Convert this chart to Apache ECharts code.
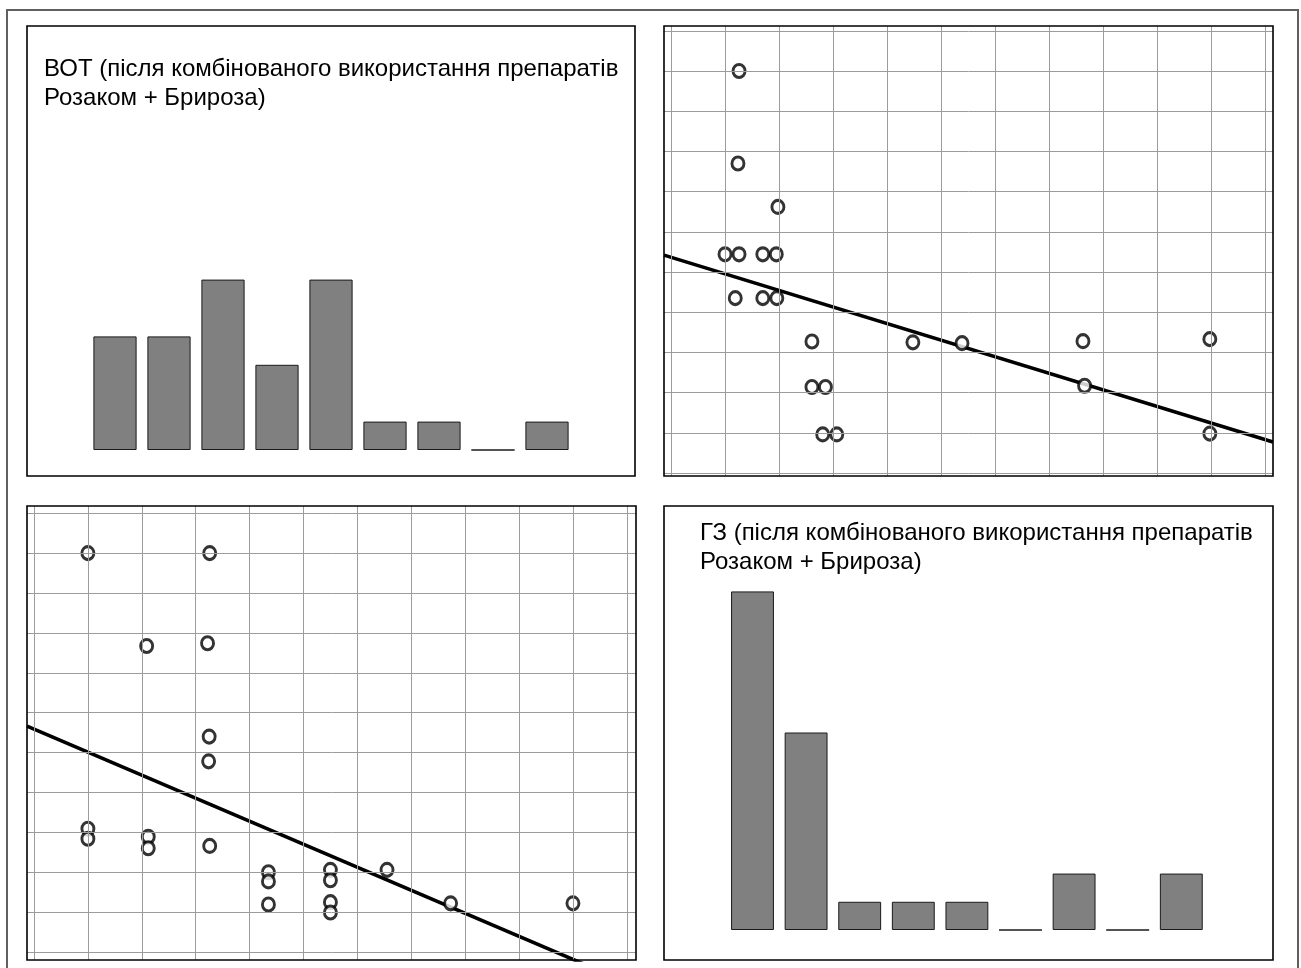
<!DOCTYPE html>
<html><head><meta charset="utf-8">
<script src="https://cdn.jsdelivr.net/npm/echarts@6/dist/echarts.min.js"></script>
<style>html,body{margin:0;padding:0;background:#fff}#c{width:1301px;height:968px}</style>
</head><body><div id="c"></div>
<script>
const titleBOT = 'ВОТ (після комбінованого використання препаратів\nРозаком + Брироза)';
const titleGZ = 'ГЗ (після комбінованого використання препаратів\nРозаком + Брироза)';
const barCategories = ['1','2','3','4','5','6','7','8','9'];
const botCounts = [4, 4, 6, 3, 6, 1, 1, 0, 1];
const gzCounts = [12, 7, 1, 1, 1, 0, 2, 0, 2];
const scatterTR = [
  [1.26,10.00],[1.24,7.70],[1.98,6.62],
  [1.00,5.44],[1.26,5.44],[1.70,5.44],[1.95,5.44],
  [1.19,4.35],[1.70,4.35],[1.96,4.35],
  [2.61,3.27],[4.48,3.25],[5.39,3.23],[7.63,3.28],[9.98,3.33],
  [2.61,2.14],[2.86,2.14],[7.66,2.17],
  [2.81,0.96],[3.07,0.96],[9.98,0.98]
];
const fitTR = [[-0.13,5.42],[11.15,0.77]];
const scatterBL = [
  [1.00,10.00],[3.26,10.00],[2.09,7.67],[3.22,7.74],
  [3.25,5.40],[3.24,4.78],
  [1.00,3.09],[1.00,2.84],[2.12,2.89],[2.12,2.60],[3.26,2.66],
  [4.35,2.00],[4.35,1.77],[4.35,1.19],
  [5.50,2.06],[5.50,1.80],[5.50,1.25],[5.50,0.99],
  [6.55,2.06],[7.73,1.22],[10.00,1.22]
];
const fitBL = [[-0.13,5.66],[10.6,-0.53]];
const gridTicks = [0,1,2,3,4,5,6,7,8,9,10,11];

const chart = echarts.init(document.getElementById('c'), null, {renderer:'canvas'});
const FONT = '"Liberation Sans", Arial, sans-serif';
const gridLineStyle = {color:'#9c9c9c', width:1, type:'solid'};

function gridMarks(){
  return gridTicks.map(v=>({xAxis:v})).concat(gridTicks.map(v=>({yAxis:v})));
}
function hiddenAxis(extra){
  return Object.assign({show:true, axisLine:{show:false}, axisTick:{show:false}, axisLabel:{show:false}, splitLine:{show:false}}, extra);
}
const scatterStyle = {color:'#fff', borderColor:'#000', borderWidth:3};
const titleStyle = {fontFamily:FONT, fontSize:24, fontWeight:'normal', color:'#000', lineHeight:29};

const option = {
  animation:false,
  backgroundColor:'#fff',
  title:[
    {text:titleBOT, left:44, top:55, padding:0, textStyle:titleStyle},
    {text:titleGZ, left:700, top:519, padding:0, textStyle:titleStyle}
  ],
  graphic:[
    {type:'rect', shape:{x:7, y:10, width:1291, height:970}, style:{fill:'none', stroke:'#606060', lineWidth:2}, z:100},
    {type:'rect', shape:{x:27, y:26, width:608, height:450}, style:{fill:'none', stroke:'#000', lineWidth:1.6}, z:100},
    {type:'rect', shape:{x:664, y:26, width:609, height:450}, style:{fill:'none', stroke:'#000', lineWidth:1.6}, z:100},
    {type:'rect', shape:{x:27, y:506, width:609, height:454}, style:{fill:'none', stroke:'#000', lineWidth:1.6}, z:100},
    {type:'rect', shape:{x:664, y:506, width:609, height:454}, style:{fill:'none', stroke:'#000', lineWidth:1.6}, z:100}
  ],
  grid:[
    {left:88, top:166, width:486, height:284},
    {left:664, top:26, width:609, height:450},
    {left:27, top:506, width:609, height:454},
    {left:725.7, top:535, width:482.4, height:395}
  ],
  xAxis:[
    hiddenAxis({type:'category', gridIndex:0, data:barCategories}),
    hiddenAxis({type:'value', gridIndex:1, min:-0.13, max:11.15}),
    hiddenAxis({type:'value', gridIndex:2, min:-0.13, max:11.17}),
    hiddenAxis({type:'category', gridIndex:3, data:barCategories})
  ],
  yAxis:[
    hiddenAxis({type:'value', gridIndex:0, min:0, max:10}),
    hiddenAxis({type:'value', gridIndex:1, min:-0.075, max:11.12}),
    hiddenAxis({type:'value', gridIndex:2, min:-0.2, max:11.18}),
    hiddenAxis({type:'value', gridIndex:3, min:0, max:14})
  ],
  series:[
    {type:'bar', xAxisIndex:0, yAxisIndex:0, data:botCounts, barCategoryGap:'20%',
     itemStyle:{color:'#808080', borderColor:'#1a1a1a', borderWidth:1}},
    {type:'bar', xAxisIndex:3, yAxisIndex:3, data:gzCounts, barCategoryGap:'20%',
     itemStyle:{color:'#808080', borderColor:'#1a1a1a', borderWidth:1}},
    {type:'scatter', xAxisIndex:1, yAxisIndex:1, data:[], z:1, silent:true,
     markLine:{silent:true, symbol:'none', label:{show:false}, lineStyle:gridLineStyle, data:gridMarks()}},
    {type:'scatter', xAxisIndex:2, yAxisIndex:2, data:[], z:1, silent:true,
     markLine:{silent:true, symbol:'none', label:{show:false}, lineStyle:gridLineStyle, data:gridMarks()}},
    {type:'line', xAxisIndex:1, yAxisIndex:1, data:fitTR, symbol:'none', clip:true, z:3,
     lineStyle:{color:'#000', width:3.6}},
    {type:'line', xAxisIndex:2, yAxisIndex:2, data:fitBL, symbol:'none', clip:true, z:3,
     lineStyle:{color:'#000', width:3.6}},
    {type:'scatter', xAxisIndex:1, yAxisIndex:1, data:scatterTR, symbol:'circle', symbolSize:[12,13], z:4, itemStyle:scatterStyle},
    {type:'scatter', xAxisIndex:2, yAxisIndex:2, data:scatterBL, symbol:'circle', symbolSize:[12,13], z:4, itemStyle:scatterStyle}
  ]
};
chart.setOption(option);
</script>
</body></html>
